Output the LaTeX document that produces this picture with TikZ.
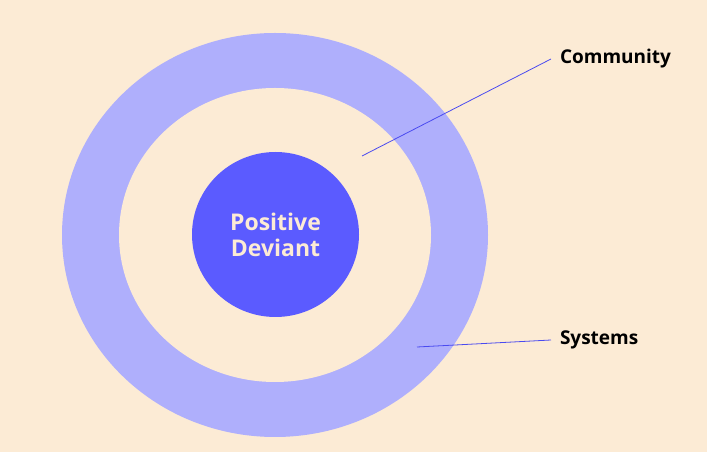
\documentclass[tikz,border=0pt]{standalone}
\usetikzlibrary{shapes.geometric}
\usepackage{fontspec}
\setmainfont{Open Sans}
\definecolor{bg}{HTML}{FCEBD5}
\definecolor{ring}{HTML}{AFAFFC}
\definecolor{core}{HTML}{5B5BFF}
\definecolor{ln}{HTML}{4A4AF0}
\begin{document}
\begin{tikzpicture}[x=1pt,y=1pt,
  lbl/.style={anchor=west,font=\fontsize{19}{22}\selectfont\bfseries,text=black,inner sep=0pt,outer xsep=9pt},
  con/.style={draw=ln,line width=0.8pt}]
\fill[bg] (0,0) rectangle (707,452);
\useasboundingbox (0,0) rectangle (707,452);
\fill[ring] (275,217) ellipse [x radius=213,y radius=202];
\fill[bg] (275,217) ellipse [x radius=156,y radius=147];
\node[ellipse,fill=core,minimum width=167,minimum height=165,inner sep=0pt,align=center,text=bg,
  font=\fontsize{23}{26}\selectfont\bfseries] (pd) at (275.5,217.5) {Positive\\Deviant};
\node[lbl] (com) at (551,393) {Community};
\node[lbl] (sys) at (551,112) {Systems};
\coordinate (c1) at (362,296);
\coordinate (s1) at (417,105);
\draw[con] (c1) -- (com.west);
\draw[con] (s1) -- (sys.west);
\end{tikzpicture}
\end{document}
